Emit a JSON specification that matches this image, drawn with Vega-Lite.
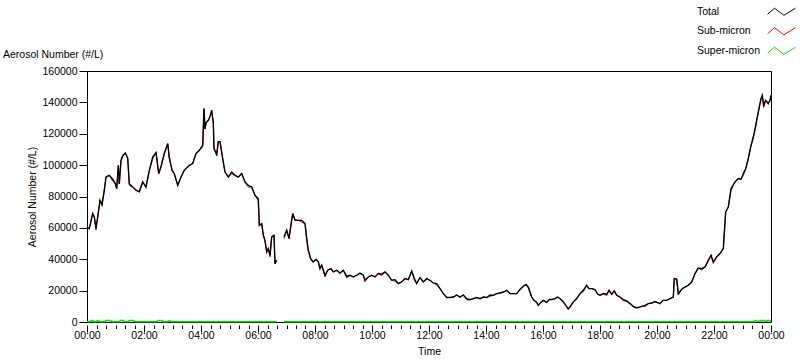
{
"$schema": "https://vega.github.io/schema/vega-lite/v6.json",
"width": 684, "height": 251,
"autosize": {"type": "none"},
"padding": {"left": 87, "top": 71, "right": 29, "bottom": 39},
"background": "white",
"config": {"view": {"stroke": "black", "strokeWidth": 1}, "font": "Liberation Sans"},
"title": {"text": "Aerosol Number (#/L)", "anchor": "start", "frame": "group", "dx": -84, "dy": 69, "offset": 10, "fontSize": 10.5, "fontWeight": "normal", "font": "Liberation Sans", "color": "black"},
"data": {"values": [
{"m":0,"T":60500,"S":60500,"U":200},{"m":4.8,"T":59500,"S":59500,"U":200},{"m":12,"T":69100,"S":69100,"U":1000},{"m":15.4,"T":67000,"S":67000,"U":200},{"m":18.9,"T":59700,"S":58500,"U":200},{"m":22.5,"T":66900,"S":66900,"U":1000},{"m":27.4,"T":77600,"S":77600,"U":200},{"m":31.6,"T":75000,"S":73800,"U":200},{"m":36.4,"T":84000,"S":84000,"U":200},{"m":40,"T":92400,"S":92400,"U":1000},{"m":46.9,"T":93500,"S":93500,"U":900},{"m":54.1,"T":91000,"S":89800,"U":200},{"m":59.6,"T":88200,"S":88200,"U":200},{"m":62.5,"T":85000,"S":85000,"U":200},{"m":65.9,"T":99900,"S":99900,"U":200},{"m":68,"T":88000,"S":88000,"U":200},{"m":71.6,"T":103000,"S":103000,"U":1100},{"m":75.2,"T":106000,"S":106000,"U":900},{"m":80.6,"T":107700,"S":107700,"U":200},{"m":85.7,"T":104500,"S":104500,"U":200},{"m":89.1,"T":88200,"S":87000,"U":1000},{"m":96.2,"T":86000,"S":86000,"U":1000},{"m":103.2,"T":84000,"S":84000,"U":200},{"m":110.1,"T":83000,"S":83000,"U":200},{"m":117.3,"T":89300,"S":89300,"U":200},{"m":124.2,"T":86000,"S":86000,"U":200},{"m":131.2,"T":96700,"S":96700,"U":200},{"m":138.3,"T":105200,"S":104000,"U":200},{"m":145.3,"T":108000,"S":108000,"U":200},{"m":151,"T":94600,"S":94600,"U":1000},{"m":155.8,"T":99000,"S":99000,"U":1000},{"m":162.7,"T":107400,"S":107400,"U":200},{"m":169.9,"T":113700,"S":113700,"U":200},{"m":173.3,"T":105000,"S":103800,"U":900},{"m":179,"T":96700,"S":96700,"U":200},{"m":183.8,"T":94600,"S":94600,"U":200},{"m":191,"T":87100,"S":87100,"U":200},{"m":197.9,"T":92400,"S":92400,"U":200},{"m":204.8,"T":96700,"S":96700,"U":200},{"m":215.4,"T":99900,"S":99900,"U":200},{"m":222.5,"T":101000,"S":101000,"U":200},{"m":229.5,"T":107400,"S":107400,"U":200},{"m":236.4,"T":109500,"S":109500,"U":200},{"m":243.6,"T":112600,"S":111400,"U":200},{"m":246.3,"T":136000,"S":136000,"U":200},{"m":248.4,"T":123000,"S":123000,"U":200},{"m":250.5,"T":127000,"S":127000,"U":200},{"m":255.4,"T":128600,"S":128600,"U":200},{"m":259,"T":131000,"S":131000,"U":200},{"m":262.5,"T":135000,"S":135000,"U":200},{"m":265.9,"T":127000,"S":127000,"U":200},{"m":267.4,"T":110500,"S":110500,"U":200},{"m":273.1,"T":107000,"S":105800,"U":200},{"m":276.4,"T":115000,"S":115000,"U":200},{"m":280,"T":115000,"S":115000,"U":200},{"m":285.7,"T":104200,"S":104200,"U":200},{"m":290.5,"T":95600,"S":95600,"U":200},{"m":297.5,"T":92500,"S":92500,"U":200},{"m":304.6,"T":95600,"S":94400,"U":200},{"m":311.6,"T":93500,"S":93500,"U":200},{"m":318.5,"T":92400,"S":92400,"U":200},{"m":325.7,"T":94600,"S":94600,"U":200},{"m":332.6,"T":89300,"S":89300,"U":200},{"m":339.6,"T":87100,"S":85900,"U":200},{"m":346.7,"T":86100,"S":86100,"U":200},{"m":353.7,"T":80800,"S":80800,"U":200},{"m":360.6,"T":78600,"S":77400,"U":200},{"m":362.7,"T":61600,"S":61600,"U":200},{"m":367.8,"T":62700,"S":62700,"U":200},{"m":371.2,"T":55300,"S":55300,"U":200},{"m":374.7,"T":52000,"S":52000,"U":200},{"m":378.3,"T":44600,"S":44600,"U":200},{"m":381.7,"T":46800,"S":46800,"U":200},{"m":385.3,"T":42500,"S":41400,"U":200},{"m":388.8,"T":54200,"S":54200,"U":200},{"m":393.7,"T":55300,"S":55300,"U":200},{"m":395.8,"T":37200,"S":37200,"U":200},{"m":399.4,"T":39400,"S":39400,"U":200},
{"m":402,"T":null,"S":null,"U":null},
{"m":414.7,"T":54200,"S":53000,"U":200},{"m":420.4,"T":58500,"S":58500,"U":200},{"m":425.3,"T":53200,"S":53200,"U":200},{"m":428.8,"T":60600,"S":60600,"U":200},{"m":433.1,"T":69100,"S":69100,"U":200},{"m":437.9,"T":65000,"S":65000,"U":200},{"m":444.8,"T":64800,"S":64800,"U":200},{"m":452,"T":64800,"S":63600,"U":200},{"m":459,"T":62700,"S":62700,"U":200},{"m":462.5,"T":53200,"S":53200,"U":200},{"m":465.9,"T":45700,"S":45700,"U":200},{"m":471,"T":40400,"S":39400,"U":200},{"m":476.4,"T":38300,"S":38300,"U":200},{"m":482.1,"T":40000,"S":40000,"U":200},{"m":487,"T":38300,"S":38300,"U":200},{"m":490.5,"T":34000,"S":34000,"U":200},{"m":494.1,"T":36200,"S":36200,"U":200},{"m":501.1,"T":29800,"S":28800,"U":200},{"m":506.7,"T":33000,"S":33000,"U":200},{"m":513.7,"T":34000,"S":34000,"U":200},{"m":518.5,"T":31900,"S":31900,"U":200},{"m":525.7,"T":33000,"S":33000,"U":200},{"m":532.6,"T":31200,"S":31200,"U":200},{"m":539.6,"T":33000,"S":33000,"U":200},{"m":546.7,"T":29100,"S":28100,"U":200},{"m":553.7,"T":29800,"S":29800,"U":200},{"m":560.6,"T":28700,"S":28700,"U":200},{"m":567.8,"T":29800,"S":29800,"U":200},{"m":574.7,"T":31200,"S":31200,"U":200},{"m":581.7,"T":29800,"S":29800,"U":200},{"m":585.3,"T":26600,"S":25600,"U":200},{"m":592.2,"T":28700,"S":28700,"U":200},{"m":599.4,"T":29800,"S":29800,"U":200},{"m":606.3,"T":28700,"S":28700,"U":200},{"m":613.3,"T":30900,"S":30900,"U":200},{"m":620.4,"T":30500,"S":29500,"U":200},{"m":627.4,"T":31900,"S":31900,"U":200},{"m":634.3,"T":29800,"S":29800,"U":200},{"m":641.5,"T":26600,"S":26600,"U":200},{"m":648.4,"T":27000,"S":26000,"U":200},{"m":655.4,"T":24500,"S":24500,"U":200},{"m":662.5,"T":25500,"S":25500,"U":200},{"m":669.5,"T":27700,"S":27700,"U":200},{"m":676.4,"T":27000,"S":27000,"U":200},{"m":683.6,"T":32500,"S":32500,"U":200},{"m":689.1,"T":27700,"S":26700,"U":200},{"m":694.1,"T":24500,"S":24500,"U":200},{"m":701.1,"T":28300,"S":28300,"U":200},{"m":708,"T":25500,"S":25500,"U":200},{"m":715.2,"T":27700,"S":27700,"U":200},{"m":722.1,"T":26600,"S":26600,"U":200},{"m":729.1,"T":24900,"S":24900,"U":200},{"m":736.2,"T":24500,"S":23500,"U":200},{"m":743.2,"T":21300,"S":21300,"U":200},{"m":750.1,"T":18100,"S":18100,"U":200},{"m":757.3,"T":15600,"S":15600,"U":200},{"m":764.2,"T":15600,"S":15600,"U":200},{"m":771.2,"T":15900,"S":15900,"U":200},{"m":778.3,"T":17200,"S":17200,"U":200},{"m":785.3,"T":15900,"S":15900,"U":200},{"m":792.2,"T":17200,"S":17200,"U":200},{"m":799.4,"T":14900,"S":14000,"U":200},{"m":806.3,"T":14200,"S":14200,"U":200},{"m":813.3,"T":14900,"S":14900,"U":200},{"m":820.4,"T":15600,"S":15600,"U":200},{"m":827.4,"T":14900,"S":14900,"U":200},{"m":834.3,"T":15900,"S":15900,"U":200},{"m":841.5,"T":15600,"S":15600,"U":200},{"m":848.4,"T":17200,"S":16300,"U":200},{"m":855.4,"T":17000,"S":17000,"U":200},{"m":862.5,"T":18100,"S":18100,"U":200},{"m":869.5,"T":18500,"S":18500,"U":200},{"m":876.4,"T":19100,"S":19100,"U":200},{"m":883.6,"T":20200,"S":20200,"U":200},{"m":890.5,"T":18100,"S":18100,"U":200},{"m":897.5,"T":18100,"S":18100,"U":200},{"m":904.6,"T":18100,"S":18100,"U":200},{"m":911.6,"T":20700,"S":20700,"U":200},{"m":918.5,"T":22800,"S":22800,"U":200},{"m":924.2,"T":24000,"S":24000,"U":200},{"m":929.1,"T":22300,"S":21400,"U":200},{"m":932.6,"T":19100,"S":19100,"U":200},{"m":936.2,"T":15900,"S":15900,"U":200},{"m":941.1,"T":13800,"S":13800,"U":200},{"m":946.7,"T":12500,"S":12500,"U":200},{"m":950.1,"T":10600,"S":10600,"U":200},{"m":955.2,"T":12500,"S":12500,"U":200},{"m":960.6,"T":13800,"S":13800,"U":200},{"m":967.8,"T":12500,"S":12500,"U":200},{"m":973.3,"T":14300,"S":14300,"U":200},{"m":978.3,"T":14300,"S":14300,"U":200},{"m":985.3,"T":14900,"S":14900,"U":200},{"m":991,"T":15900,"S":15900,"U":200},{"m":997.9,"T":14300,"S":14300,"U":200},{"m":1002.8,"T":12800,"S":12800,"U":200},{"m":1007.8,"T":10600,"S":10600,"U":200},{"m":1013.3,"T":8500,"S":7800,"U":200},{"m":1016.8,"T":9600,"S":9600,"U":200},{"m":1023.8,"T":12800,"S":12800,"U":200},{"m":1031,"T":14900,"S":14900,"U":200},{"m":1037.9,"T":18100,"S":18100,"U":200},{"m":1044.9,"T":20200,"S":19300,"U":200},{"m":1052,"T":23400,"S":23400,"U":200},{"m":1056.8,"T":21300,"S":21300,"U":200},{"m":1062.5,"T":21300,"S":21300,"U":200},{"m":1069.5,"T":20600,"S":20600,"U":200},{"m":1075.2,"T":17700,"S":17700,"U":200},{"m":1080,"T":17000,"S":17000,"U":200},{"m":1087,"T":18100,"S":18100,"U":200},{"m":1094.1,"T":17700,"S":16800,"U":200},{"m":1099,"T":20200,"S":20200,"U":200},{"m":1104.6,"T":17700,"S":17700,"U":200},{"m":1110.1,"T":19800,"S":19800,"U":200},{"m":1115.2,"T":17000,"S":17000,"U":200},{"m":1122.1,"T":15900,"S":15900,"U":200},{"m":1129.1,"T":14300,"S":13400,"U":200},{"m":1136.2,"T":13400,"S":13400,"U":200},{"m":1143.2,"T":11700,"S":11700,"U":200},{"m":1150.1,"T":10000,"S":10000,"U":200},{"m":1155.2,"T":9100,"S":9100,"U":200},{"m":1160.6,"T":9200,"S":9200,"U":200},{"m":1167.8,"T":10000,"S":10000,"U":200},{"m":1174.8,"T":10600,"S":9800,"U":200},{"m":1181.7,"T":11700,"S":11700,"U":200},{"m":1188.9,"T":12100,"S":12100,"U":200},{"m":1195.8,"T":13000,"S":13000,"U":200},{"m":1206.3,"T":11700,"S":11700,"U":200},{"m":1212.6,"T":13800,"S":13800,"U":200},{"m":1220.4,"T":13800,"S":13800,"U":200},{"m":1227.4,"T":14900,"S":14900,"U":200},{"m":1234.3,"T":15900,"S":15900,"U":200},{"m":1236.4,"T":27700,"S":27700,"U":200},{"m":1241.5,"T":27300,"S":27300,"U":200},{"m":1244.9,"T":18100,"S":17200,"U":200},{"m":1252,"T":20900,"S":20900,"U":200},{"m":1259,"T":22300,"S":22300,"U":200},{"m":1265.9,"T":23400,"S":23400,"U":200},{"m":1273.1,"T":25500,"S":25500,"U":200},{"m":1280,"T":30900,"S":30900,"U":200},{"m":1287,"T":34400,"S":34400,"U":200},{"m":1294.1,"T":34000,"S":33000,"U":200},{"m":1301.1,"T":35100,"S":35100,"U":200},{"m":1308,"T":39300,"S":39300,"U":200},{"m":1313.7,"T":42500,"S":42500,"U":200},{"m":1318.5,"T":38300,"S":37300,"U":200},{"m":1325.7,"T":41500,"S":41500,"U":200},{"m":1332.6,"T":43600,"S":43600,"U":200},{"m":1339.6,"T":46800,"S":46800,"U":200},{"m":1344.6,"T":70100,"S":70100,"U":200},{"m":1350.1,"T":73300,"S":73300,"U":200},{"m":1355.8,"T":85000,"S":83800,"U":200},{"m":1364.2,"T":89300,"S":89300,"U":200},{"m":1371.2,"T":91400,"S":91400,"U":200},{"m":1376.9,"T":91000,"S":91000,"U":200},{"m":1381.7,"T":94600,"S":93400,"U":200},{"m":1386.8,"T":97700,"S":97700,"U":200},{"m":1392.2,"T":104200,"S":104200,"U":200},{"m":1397.3,"T":111600,"S":111600,"U":200},{"m":1402.8,"T":117900,"S":117900,"U":200},{"m":1407.8,"T":125400,"S":124200,"U":900},{"m":1413.3,"T":133900,"S":133900,"U":400},{"m":1419,"T":142400,"S":142400,"U":1000},{"m":1421.7,"T":144500,"S":144500,"U":500},{"m":1424.6,"T":138100,"S":136900,"U":1000},{"m":1428.8,"T":141300,"S":141300,"U":400},{"m":1434.3,"T":139200,"S":139200,"U":1000},{"m":1437.9,"T":141300,"S":141300,"U":500},{"m":1440,"T":144500,"S":144500,"U":1000}
]},
"transform": [{"fold": ["T", "S", "U"], "as": ["k", "v"]}],
"encoding": {
  "x": {"field": "m", "type": "quantitative",
    "scale": {"domain": [0, 1440], "nice": false, "zero": false},
    "axis": {"title": "Time", "values": [0,20,40,60,80,100,120,140,160,180,200,220,240,260,280,300,320,340,360,380,400,420,440,460,480,500,520,540,560,580,600,620,640,660,680,700,720,740,760,780,800,820,840,860,880,900,920,940,960,980,1000,1020,1040,1060,1080,1100,1120,1140,1160,1180,1200,1220,1240,1260,1280,1300,1320,1340,1360,1380,1400,1420,1440],
      "labelExpr": "datum.value % 120 === 0 ? ((floor(datum.value/60) % 24) < 10 ? '0' : '') + (floor(datum.value/60) % 24) + ':00' : ''",
      "tickSize": {"condition": {"test": "datum.value % 120 === 0", "value": 7}, "value": 3.5},
      "offset": 3, "domain": false, "grid": false, "tickColor": "black",
      "labelColor": "black", "labelFontSize": 10.5, "labelFont": "Liberation Sans", "labelOverlap": false, "labelFlush": false, "labelPadding": -2,
      "titleColor": "black", "titleFontSize": 10.5, "titleFont": "Liberation Sans", "titleFontWeight": "normal", "titlePadding": 6}},
  "y": {"field": "v", "type": "quantitative",
    "scale": {"domain": [0, 160000], "nice": false},
    "axis": {"title": "Aerosol Number (#/L)", "values": [0,20000,40000,60000,80000,100000,120000,140000,160000], "format": "d",
      "tickSize": 8, "tickColor": "black", "domain": false, "grid": false, "labelPadding": 2, "labelOverlap": false,
      "labelColor": "black", "labelFontSize": 10.5, "labelFont": "Liberation Sans",
      "titleColor": "black", "titleFontSize": 10.5, "titleFont": "Liberation Sans", "titleFontWeight": "normal", "titlePadding": 4}},
  "color": {"field": "k", "type": "nominal",
    "scale": {"domain": ["T", "S", "U"], "range": ["#000000", "#ff0000", "#00dd00"]},
    "legend": {"orient": "none", "legendX": 684.5, "legendY": -69.5, "title": null, "padding": 0,
      "labelExpr": "datum.label === 'T' ? 'Total' : datum.label === 'S' ? 'Sub-micron' : 'Super-micron'",
      "symbolType": "M-1.47,0.3L-0.75,-0.35L0.25,0.4L1.47,-0.35", "symbolSize": 361, "symbolStrokeWidth": 1, "symbolFillColor": "transparent",
      "labelOffset": -94.5, "labelFontSize": 10.5, "labelFont": "Liberation Sans", "labelColor": "black", "rowPadding": 3.5}}
},
"layer": [
  {"transform": [{"filter": "datum.k === 'U'"}], "mark": {"type": "line", "strokeWidth": 1.5, "invalid": "break-paths-show-domains"}},
  {"transform": [{"filter": "datum.k === 'S'"}], "mark": {"type": "line", "strokeWidth": 1, "invalid": "break-paths-show-domains"}},
  {"transform": [{"filter": "datum.k === 'T'"}], "mark": {"type": "line", "strokeWidth": 1.4, "invalid": "break-paths-show-domains"}}
]
}
